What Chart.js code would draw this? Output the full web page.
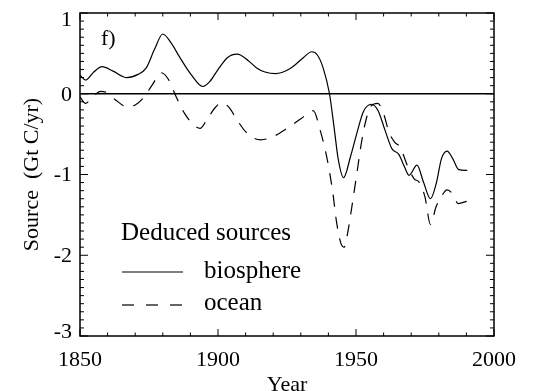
<!DOCTYPE html>
<html>
<head>
<meta charset="utf-8">
<script src="https://cdn.jsdelivr.net/npm/chart.js@4.4.0/dist/chart.umd.min.js"></script>
<style>
  html, body { margin: 0; padding: 0; background: #fff; }
  #wrap { width: 533px; height: 391px; }
</style>
</head>
<body>
<div id="wrap"><canvas id="sourceChart"></canvas></div>
<script>
'use strict';

/* ── Data (Gt C/yr) ───────────────────────────────── */
var bioYears  = [1850, 1852, 1855, 1858, 1862, 1867, 1871, 1874, 1877, 1880, 1883, 1886, 1890, 1894.5,
                 1897, 1900, 1903.5, 1907, 1911, 1914, 1917, 1921, 1925, 1928, 1931, 1934, 1936, 1938,
                 1940.4, 1942, 1943.6, 1945.5, 1948, 1950.3, 1952.7, 1955.6, 1958, 1960.5, 1963, 1965.5,
                 1967.5, 1969.2, 1972.1, 1974.5, 1977, 1979, 1981, 1983, 1985, 1987.2, 1990.3];
var bioValues = [0.23, 0.17, 0.27, 0.335, 0.28, 0.20, 0.24, 0.32, 0.55, 0.74, 0.63, 0.46, 0.25, 0.09,
                 0.15, 0.30, 0.45, 0.49, 0.41, 0.32, 0.27, 0.25, 0.29, 0.36, 0.45, 0.52, 0.48, 0.33,
                 0.0, -0.40, -0.82, -1.04, -0.78, -0.49, -0.22, -0.13, -0.21, -0.45, -0.68, -0.75,
                 -0.90, -1.01, -0.885, -1.10, -1.30, -1.12, -0.80, -0.71, -0.80, -0.94, -0.95];

var oceanYears  = [1850, 1852, 1854, 1857.5, 1860, 1863, 1867, 1870, 1873, 1876, 1879.5, 1882, 1885, 1888,
                   1891, 1893.5, 1896, 1899, 1901.5, 1904, 1907, 1910, 1913, 1915.5, 1920, 1925, 1930,
                   1934.5, 1937, 1939.5, 1941.5, 1943, 1944.5, 1945.7, 1947, 1948.5, 1950.3, 1952, 1953.8,
                   1955.5, 1957.9, 1960, 1962, 1964, 1966, 1968.5, 1971, 1973, 1975, 1977, 1979, 1980.5,
                   1983, 1985, 1987, 1990.3];
var oceanValues = [-0.04, -0.12, -0.06, 0.03, 0.01, -0.08, -0.16, -0.14, -0.05, 0.10, 0.26, 0.18, -0.05, -0.25,
                   -0.38, -0.43, -0.32, -0.17, -0.11, -0.17, -0.33, -0.47, -0.55, -0.57, -0.53, -0.43, -0.31,
                   -0.21, -0.45, -0.80, -1.20, -1.60, -1.85, -1.90, -1.72, -1.40, -0.99, -0.60, -0.30,
                   -0.15, -0.12, -0.25, -0.48, -0.60, -0.66, -0.88, -1.05, -1.10, -1.28, -1.62, -1.40, -1.30,
                   -1.19, -1.24, -1.36, -1.33];

var seriesLabels = ['biosphere', 'ocean'];
var legendTitle  = 'Deduced sources';
var panelLabel   = 'f)';
var xTicks = [1850, 1900, 1950, 2000];
var yTicks = [1, 0, -1, -2, -3];

var SERIF = "'Liberation Serif', 'Times New Roman', serif";

function pairs(xs, ys) {
  return xs.map(function (x, i) { return { x: x, y: ys[i] }; });
}

/* ── Frame, inward ticks, zero line, y labels, panel label and legend ── */
var idlFrame = {
  id: 'idlFrame',
  afterDatasetsDraw: function (chart) {
    var ctx = chart.ctx, a = chart.chartArea;
    var xs = chart.scales.x, ys = chart.scales.y;
    ctx.save();
    ctx.strokeStyle = '#000';
    ctx.lineWidth = 1.5;

    var y0 = ys.getPixelForValue(0);
    ctx.beginPath(); ctx.moveTo(a.left, y0); ctx.lineTo(a.right, y0); ctx.stroke();
    ctx.strokeRect(a.left, a.top, a.right - a.left, a.bottom - a.top);

    ctx.lineWidth = 1;
    ctx.beginPath();
    for (var yr = 1850; yr <= 2000; yr += 10) {
      var px = xs.getPixelForValue(yr), len = (yr % 50 === 0) ? 7 : 3.5;
      ctx.moveTo(px, a.bottom); ctx.lineTo(px, a.bottom - len);
      ctx.moveTo(px, a.top);    ctx.lineTo(px, a.top + len);
    }
    for (var i = -30; i <= 10; i++) {
      var py = ys.getPixelForValue(i / 10), l = (i % 10 === 0) ? 8 : 4;
      ctx.moveTo(a.left, py);  ctx.lineTo(a.left + l, py);
      ctx.moveTo(a.right, py); ctx.lineTo(a.right - l, py);
    }
    ctx.stroke();

    /* y tick labels: end labels pulled inside the frame, as in the original */
    ctx.fillStyle = '#000';
    ctx.font = '22px ' + SERIF;
    ctx.textAlign = 'right';
    ctx.textBaseline = 'middle';
    yTicks.forEach(function (v) {
      var nudge = v === ys.max ? 7 : (v === ys.min ? -4 : 1);
      ctx.fillText(String(v), a.left - 8, ys.getPixelForValue(v) + nudge);
    });

    ctx.textBaseline = 'alphabetic';
    ctx.textAlign = 'left';
    ctx.fillText(panelLabel, 101, 45);

    ctx.font = '25px ' + SERIF;
    ctx.fillText(legendTitle, 121, 240);
    var rows = [{ y: 272, text: 278 }, { y: 305, text: 310 }];
    chart.data.datasets.forEach(function (ds, k) {
      ctx.lineWidth = 1.2;
      ctx.setLineDash(ds.borderDash ? [12, 12] : []);
      ctx.beginPath(); ctx.moveTo(122, rows[k].y); ctx.lineTo(183, rows[k].y); ctx.stroke();
      ctx.setLineDash([]);
      ctx.fillText(ds.label, 204, rows[k].text);
    });
    ctx.restore();
  }
};

document.addEventListener('DOMContentLoaded', function () {
  Chart.defaults.color = '#000';
  Chart.defaults.font.family = SERIF;
  Chart.defaults.font.size = 22;

  new Chart(document.getElementById('sourceChart'), {
    type: 'line',
    data: {
      datasets: [
        { label: seriesLabels[0], data: pairs(bioYears, bioValues),
          borderColor: '#000', borderWidth: 1.2, pointRadius: 0,
          cubicInterpolationMode: 'monotone', fill: false },
        { label: seriesLabels[1], data: pairs(oceanYears, oceanValues),
          borderColor: '#000', borderWidth: 1.2, pointRadius: 0, borderDash: [12, 10],
          cubicInterpolationMode: 'monotone', fill: false }
      ]
    },
    options: {
      responsive: true, maintainAspectRatio: false, animation: false,
      layout: { padding: { top: 13, right: 39, left: 0, bottom: 0 } },
      plugins: { legend: { display: false }, tooltip: { enabled: false } },
      scales: {
        x: {
          type: 'linear', min: 1850, max: 2000,
          afterBuildTicks: function (s) { s.ticks = xTicks.map(function (v) { return { value: v }; }); },
          afterFit: function (s) { s.height = 55; s.paddingLeft = 0; s.paddingRight = 0; },
          ticks: { padding: 11, color: '#000', callback: function (v) { return String(v); } },
          grid: { display: false, drawTicks: false }, border: { display: false },
          title: { display: true, text: 'Year', color: '#000', font: { size: 22 }, padding: { top: 0, bottom: -7 } }
        },
        y: {
          type: 'linear', min: -3, max: 1,
          afterBuildTicks: function (s) { s.ticks = yTicks.map(function (v) { return { value: v }; }); },
          afterFit: function (s) { s.width = 80; s.paddingTop = 0; s.paddingBottom = 0; },
          ticks: { display: false },
          grid: { display: false, drawTicks: false }, border: { display: false },
          title: { display: true, text: 'Source  (Gt C/yr)', color: '#000', font: { size: 22 }, padding: { top: 19, bottom: 0 } }
        }
      }
    },
    plugins: [idlFrame]
  });
});
</script>
</body>
</html>
